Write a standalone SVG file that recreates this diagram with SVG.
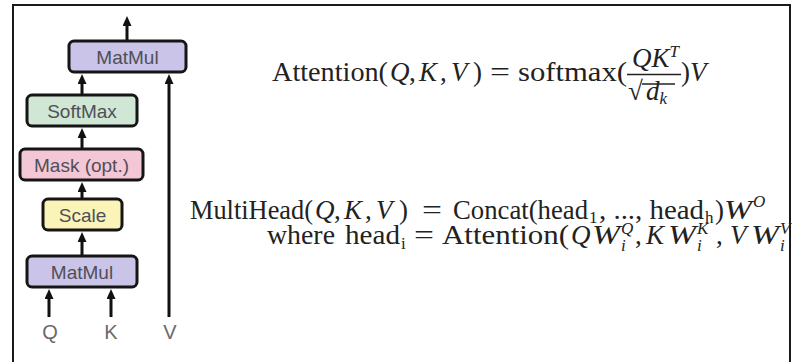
<svg xmlns="http://www.w3.org/2000/svg" width="792" height="362" viewBox="0 0 792 362">
<style>
.box{stroke:#151515;stroke-width:3}
.mm{fill:#c9c4e8}
.sm{fill:#cfe7d4}
.mk{fill:#f4c7d7}
.sc{fill:#faf4b8}
.lbl{font-family:"Liberation Sans",Arial,sans-serif;font-size:19px;fill:#4f4f58;text-anchor:middle}
.io{font-family:"Liberation Sans",Arial,sans-serif;font-size:20px;fill:#6a6a6a;text-anchor:middle}
.conn line{stroke:#111;stroke-width:3;marker-end:url(#ah)}
.m{font-family:"Liberation Serif","Times New Roman",serif;font-size:27px;fill:#222}
.i{font-style:italic}
.s{font-size:17px}
</style>
<defs>
<marker id="ah" markerWidth="10" markerHeight="10" refX="2" refY="4.5" orient="auto" markerUnits="userSpaceOnUse">
<path d="M0,0 L10,4.5 L0,9 z" fill="#111"/>
</marker>
</defs>
<rect x="13" y="5" width="777" height="370" fill="#fff" stroke="#1a1a1a" stroke-width="2"/>

<g class="conn" id="connectors">
<line x1="127" y1="40" x2="127" y2="24"/>
<line x1="82" y1="94" x2="82" y2="82"/>
<line x1="82" y1="148" x2="82" y2="136"/>
<line x1="82" y1="198" x2="82" y2="190"/>
<line x1="82" y1="255" x2="82" y2="240"/>
<line x1="49" y1="317" x2="49" y2="297"/>
<line x1="111" y1="317" x2="111" y2="297"/>
<line x1="169" y1="317" x2="169" y2="82"/>
</g>

<g id="matmul_top"><rect class="box mm" x="69" y="41" width="117" height="31" rx="5"/><text class="lbl" x="127.5" y="63.5">MatMul</text></g>
<g id="softmax"><rect class="box sm" x="27" y="95" width="110" height="31" rx="5"/><text class="lbl" x="82" y="117.5">SoftMax</text></g>
<g id="mask"><rect class="box mk" x="20" y="149" width="123" height="31" rx="5"/><text class="lbl" x="81.5" y="171.5">Mask (opt.)</text></g>
<g id="scale"><rect class="box sc" x="43" y="199" width="79" height="31" rx="5"/><text class="lbl" x="82.5" y="221.5">Scale</text></g>
<g id="matmul_bottom"><rect class="box mm" x="27" y="256" width="110" height="31" rx="5"/><text class="lbl" x="82" y="278.5">MatMul</text></g>
<g id="q"><text class="io" x="50" y="339">Q</text></g>
<g id="k"><text class="io" x="111" y="339">K</text></g>
<g id="v"><text class="io" x="170" y="339">V</text></g>

<g id="eq-attention">
<text class="m" x="272" y="81" textLength="116" lengthAdjust="spacingAndGlyphs">Attention(</text>
<text class="m i" x="390" y="81">Q</text>
<text class="m" x="409" y="81">,</text>
<text class="m i" x="419" y="81">K</text>
<text class="m" x="440" y="81">,</text>
<text class="m i" x="451" y="81">V</text>
<text class="m" x="473" y="81">)</text>
<text class="m" x="490" y="81" textLength="20" lengthAdjust="spacingAndGlyphs">=</text>
<text class="m" x="518" y="81" textLength="109" lengthAdjust="spacingAndGlyphs">softmax(</text>
<text class="m i" x="632" y="67">QK<tspan class="s" dy="-10">T</tspan></text>
<line x1="627" y1="74.5" x2="681" y2="74.5" stroke="#222" stroke-width="1.4"/>
<text class="m" x="628" y="100">√</text>
<line x1="642" y1="84" x2="675" y2="84" stroke="#222" stroke-width="1.4"/>
<text class="m i" x="646" y="100">d<tspan class="s" dy="4">k</tspan></text>
<text class="m" x="681" y="81">)</text>
<text class="m i" x="690" y="81">V</text>
</g>

<g id="eq-multihead">
<text class="m" x="190" y="219" textLength="123" lengthAdjust="spacingAndGlyphs">MultiHead(</text>
<text class="m i" x="315" y="219">Q</text>
<text class="m" x="334" y="219">,</text>
<text class="m i" x="344" y="219">K</text>
<text class="m" x="365" y="219">,</text>
<text class="m i" x="376" y="219">V</text>
<text class="m" x="399" y="219">)</text>
<text class="m" x="422" y="219" textLength="20" lengthAdjust="spacingAndGlyphs">=</text>
<text class="m" x="453" y="219" textLength="135" lengthAdjust="spacingAndGlyphs">Concat(head</text>
<text class="m s" x="589" y="223">1</text>
<text class="m" x="599" y="219" textLength="105" lengthAdjust="spacingAndGlyphs">, ..., head</text>
<text class="m s" x="705" y="223">h</text>
<text class="m" x="715" y="219">)</text>
<text class="m i" x="724" y="219" textLength="28" lengthAdjust="spacingAndGlyphs">W</text>
<text class="m i s" x="753" y="207">O</text>
</g>

<g id="eq-where">
<text class="m" x="267" y="244" textLength="68" lengthAdjust="spacingAndGlyphs">where</text>
<text class="m" x="345" y="244" textLength="55" lengthAdjust="spacingAndGlyphs">head</text>
<text class="m s" x="401" y="249">i</text>
<text class="m" x="414" y="244" textLength="20" lengthAdjust="spacingAndGlyphs">=</text>
<text class="m" x="442" y="244" textLength="127" lengthAdjust="spacingAndGlyphs">Attention(</text>
<text class="m i" x="571" y="244">Q</text>
<text class="m i" x="592" y="244" textLength="28" lengthAdjust="spacingAndGlyphs">W</text>
<text class="m i s" x="621" y="234">Q</text>
<text class="m i s" x="621" y="251">i</text>
<text class="m" x="635" y="244">,</text>
<text class="m i" x="646" y="244">K</text>
<text class="m i" x="668" y="244" textLength="28" lengthAdjust="spacingAndGlyphs">W</text>
<text class="m i s" x="697" y="234">K</text>
<text class="m i s" x="697" y="251">i</text>
<text class="m" x="716" y="244">,</text>
<text class="m i" x="730" y="244">V</text>
<text class="m i" x="751" y="244" textLength="28" lengthAdjust="spacingAndGlyphs">W</text>
<text class="m i s" x="780" y="234">V</text>
<text class="m i s" x="780" y="251">i</text>
</g>
</svg>
